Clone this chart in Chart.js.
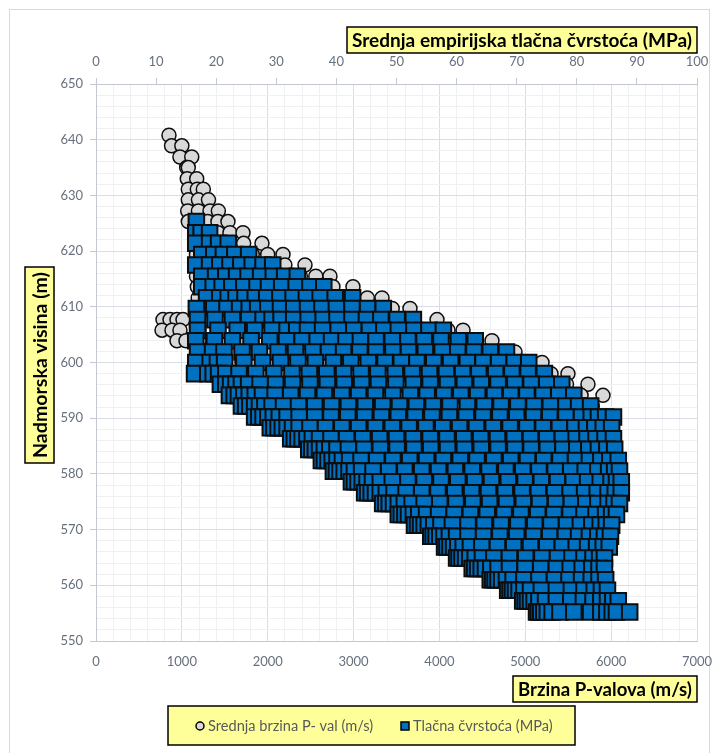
<!DOCTYPE html>
<html>
<head>
<meta charset="utf-8">
<script src="https://cdn.jsdelivr.net/npm/chart.js@4.4.1/dist/chart.umd.min.js"></script>
<style>
  html, body { margin: 0; padding: 0; background: #fff; }
  #wrap { width: 719px; height: 753px; }
</style>
</head>
<body>
<div id="wrap"><canvas id="profil"></canvas></div>
<script>
// nadmorske visine redova mjerenja (m)
const elevations = [640.8, 638.9, 636.9, 635.0, 633.0, 631.1, 629.2, 627.2,
    625.3, 623.3, 621.4, 619.4, 617.5, 615.5, 613.6, 611.6, 609.7, 607.7,
    605.8, 603.9, 601.9, 600.0, 598.0, 596.1, 594.1, 592.2, 590.2, 588.3,
    586.3, 584.4, 582.4, 580.5, 578.6, 576.6, 574.7, 572.7, 570.8, 568.8,
    566.9, 564.9, 563.0, 561.0, 559.1, 557.2, 555.2];

// Srednja brzina P-val (m/s), jedan niz po visini
const velRows = [
    [850],
    [880, 1000],
    [978, 1115],
    [1056, 1075],
    [1063, 1173],
    [1075, 1180, 1250],
    [1075, 1193, 1310],
    [1068, 1193, 1328, 1425],
    [1075, 1190, 1300, 1420, 1537],
    [1150, 1280, 1420, 1560, 1712],
    [1160, 1330, 1520, 1720, 1933],
    [1170, 1380, 1600, 1820, 2000, 2178],
    [1160, 1420, 1700, 1950, 2200, 2434],
    [1170, 1450, 1760, 2060, 2380, 2560, 2725],
    [1180, 1500, 1830, 2150, 2480, 2760, 2993],
    [1190, 1540, 1900, 2270, 2620, 2980, 3160, 3331],
    [1170, 1560, 1960, 2360, 2750, 3140, 3450, 3657],
    [780, 862, 943, 1013, 1250, 1660, 2090, 2510, 2930, 3350, 3700, 3972],
    [769, 885, 978, 1200, 1640, 2090, 2540, 2980, 3420, 3850, 4100, 4275],
    [943, 1048, 1200, 1680, 2170, 2650, 3130, 3600, 4060, 4400, 4612],
    [1200, 1700, 2200, 2700, 3200, 3700, 4180, 4600, 4880],
    [1176, 1700, 2230, 2760, 3290, 3810, 4320, 4800, 5050, 5195],
    [1165, 1720, 2280, 2840, 3400, 3950, 4490, 5000, 5300, 5497],
    [1468, 1990, 2520, 3050, 3580, 4100, 4620, 5100, 5480, 5730],
    [1572, 2100, 2640, 3180, 3720, 4250, 4770, 5250, 5650, 5905],
    [1712, 2230, 2760, 3290, 3810, 4330, 4840, 5330, 5780],
    [1863, 2380, 2900, 3420, 3940, 4450, 4960, 5480, 6000],
    [2050, 2550, 3050, 3560, 4060, 4560, 5060, 5540, 5980],
    [2283, 2760, 3240, 3720, 4200, 4680, 5150, 5600, 6000],
    [2492, 2950, 3410, 3870, 4330, 4790, 5240, 5650, 6020],
    [2644, 3090, 3540, 3990, 4440, 4890, 5330, 5720, 6050],
    [2784, 3220, 3660, 4100, 4540, 4980, 5400, 5780, 6060],
    [2993, 3420, 3850, 4280, 4710, 5130, 5530, 5850, 6080],
    [3145, 3560, 3980, 4400, 4820, 5230, 5610, 5900, 6080],
    [3354, 3760, 4170, 4580, 4990, 5380, 5720, 5950, 6060],
    [3541, 3940, 4340, 4740, 5140, 5510, 5800, 6020],
    [3727, 4110, 4500, 4890, 5280, 5620, 5850, 5970],
    [3913, 4290, 4670, 5050, 5420, 5720, 5950],
    [4076, 4440, 4800, 5160, 5510, 5780, 5950],
    [4216, 4560, 4910, 5260, 5600, 5880],
    [4402, 4740, 5080, 5420, 5700, 5880],
    [4612, 4930, 5250, 5560, 5780, 5900],
    [4810, 5110, 5410, 5690, 5920],
    [4985, 5270, 5550, 5810, 6050],
    [5148, 5420, 5690, 5950, 6180]
];

// Tlacna cvrstoca (MPa), isti redovi visina
const ucsRows = [
    [], [], [], [], [], [], [], [],
    [16.7],
    [16.6, 17.5, 18.9],
    [16.6, 18.9, 20.4, 22.0],
    [17.6, 19.6, 21.2, 23.1, 25.4],
    [16.6, 18.9, 20.6, 22.3, 24.1, 26.0, 27.8, 29.4],
    [17.6, 19.9, 21.6, 23.4, 25.3, 27.4, 29.5, 31.4, 33.5],
    [17.6, 19.5, 21.0, 22.6, 24.6, 26.8, 28.7, 30.9, 33.3, 35.6, 37.9],
    [18.4, 20.6, 22.0, 23.3, 24.8, 26.5, 28.4, 30.6, 32.8, 35.0, 37.3, 39.8, 42.7],
    [16.7, 19.6, 21.8, 23.9, 25.5, 26.9, 28.6, 30.7, 32.9, 35.2, 37.6, 40.0, 42.6, 45.2, 47.8],
    [16.9, 19.8, 22.7, 25.4, 27.8, 29.3, 30.8, 32.9, 35.3, 37.8, 40.1, 42.6, 45.0, 47.4, 50.1, 52.8],
    [16.9, 20.3, 23.5, 26.4, 29.3, 31.8, 33.4, 35.2, 37.7, 40.3, 42.9, 45.5, 47.9, 50.3, 52.9, 55.4, 57.8],
    [16.6, 19.7, 22.7, 25.8, 28.9, 31.7, 34.3, 36.8, 39.2, 41.6, 44.0, 46.6, 49.3, 51.9, 54.6, 57.4, 60.3, 63.1],
    [16.9, 19.4, 21.3, 24.3, 27.2, 30.3, 33.2, 36.1, 38.7, 41.2, 43.9, 46.6, 49.4, 52.0, 54.8, 57.6, 60.2, 62.9, 65.6, 68.3],
    [16.6, 19.0, 20.2, 21.4, 24.6, 27.7, 30.7, 33.6, 36.5, 39.5, 42.4, 45.3, 48.1, 50.8, 53.4, 56.2, 59.0, 61.8, 64.4, 67.0, 69.6, 72.0],
    [16.4, 18.6, 19.5, 20.4, 21.6, 23.8, 26.6, 29.6, 32.6, 35.5, 38.4, 41.2, 44.1, 46.9, 49.8, 52.6, 55.5, 58.3, 61.0, 63.7, 66.5, 69.2, 71.9, 74.6],
    [20.7, 21.6, 22.4, 23.3, 24.2, 25.4, 27.3, 29.9, 32.7, 35.6, 38.5, 41.3, 44.2, 47.0, 49.9, 52.8, 55.6, 58.5, 61.3, 64.1, 66.9, 69.7, 72.4, 75.0, 77.5],
    [22.2, 23.0, 23.7, 24.6, 25.5, 26.5, 27.7, 29.8, 32.4, 35.2, 38.0, 40.9, 43.7, 46.5, 49.4, 52.3, 55.1, 57.9, 60.7, 63.5, 66.3, 69.0, 71.7, 74.4, 77.0, 79.5],
    [24.2, 24.9, 25.6, 26.4, 27.2, 28.1, 29.3, 31.2, 33.7, 36.4, 39.2, 42.0, 44.8, 47.7, 50.5, 53.3, 56.1, 58.9, 61.8, 64.6, 67.4, 70.2, 72.9, 75.6, 78.2, 80.3, 82.3],
    [26.4, 27.1, 27.8, 28.6, 29.5, 30.5, 31.8, 33.8, 36.4, 39.1, 41.9, 44.7, 47.5, 50.3, 53.1, 55.9, 58.8, 61.6, 64.4, 67.2, 70.0, 72.8, 75.5, 78.2, 80.8, 82.4, 83.6, 84.8, 86.1],
    [29.0, 29.6, 30.3, 31.0, 31.8, 32.7, 33.8, 35.6, 38.2, 40.9, 43.7, 46.5, 49.3, 52.1, 54.9, 57.7, 60.5, 63.3, 66.1, 68.9, 71.7, 74.4, 77.1, 79.7, 81.6, 83.0, 84.4, 85.8],
    [32.4, 33.0, 33.6, 34.3, 35.1, 36.0, 37.2, 39.1, 41.7, 44.4, 47.2, 50.0, 52.8, 55.6, 58.4, 61.2, 64.0, 66.8, 69.6, 72.3, 75.0, 77.6, 79.9, 81.7, 83.2, 84.7, 86.1],
    [35.4, 35.9, 36.5, 37.2, 38.0, 38.9, 40.1, 42.0, 44.6, 47.3, 50.1, 52.9, 55.7, 58.5, 61.3, 64.1, 66.9, 69.7, 72.4, 75.1, 77.7, 80.0, 82.0, 83.6, 85.0, 86.3],
    [37.5, 38.0, 38.6, 39.3, 40.1, 41.0, 42.2, 44.1, 46.7, 49.4, 52.2, 55.0, 57.8, 60.6, 63.4, 66.2, 69.0, 71.8, 74.5, 77.2, 79.8, 82.1, 84.0, 85.5, 86.9],
    [39.5, 40.0, 40.6, 41.3, 42.1, 43.0, 44.2, 46.1, 48.7, 51.4, 54.2, 57.0, 59.8, 62.6, 65.4, 68.2, 71.0, 73.7, 76.4, 79.0, 81.4, 83.5, 85.3, 86.3, 87.1],
    [42.5, 43.0, 43.6, 44.3, 45.1, 46.0, 47.3, 49.3, 51.9, 54.6, 57.4, 60.2, 63.0, 65.8, 68.6, 71.4, 74.1, 76.8, 79.4, 81.8, 83.9, 85.7, 86.6, 87.4],
    [44.7, 45.2, 45.8, 46.5, 47.3, 48.3, 49.6, 51.6, 54.2, 56.9, 59.7, 62.5, 65.3, 68.1, 70.9, 73.6, 76.3, 78.9, 81.3, 83.4, 85.2, 86.4, 87.4],
    [47.7, 48.2, 48.8, 49.5, 50.3, 51.3, 52.6, 54.6, 57.2, 59.9, 62.7, 65.5, 68.3, 71.1, 73.8, 76.5, 79.1, 81.5, 83.5, 85.2, 86.2, 87.1],
    [50.3, 50.8, 51.4, 52.0, 52.8, 53.7, 55.0, 57.0, 59.6, 62.3, 65.1, 67.9, 70.7, 73.5, 76.2, 78.9, 81.2, 83.2, 84.8, 85.8, 86.6],
    [53.0, 53.5, 54.0, 54.6, 55.3, 56.2, 57.4, 59.3, 61.9, 64.6, 67.4, 70.2, 73.0, 75.7, 78.3, 80.6, 82.5, 83.9, 84.9, 85.8],
    [55.7, 56.1, 56.6, 57.2, 57.9, 58.8, 60.0, 61.9, 64.5, 67.2, 70.0, 72.8, 75.5, 78.1, 80.3, 82.1, 83.5, 84.6, 85.6],
    [58.0, 58.4, 58.9, 59.5, 60.2, 61.1, 62.3, 64.2, 66.8, 69.5, 72.3, 75.0, 77.6, 79.9, 81.8, 83.3, 84.4, 85.4],
    [60.0, 60.4, 60.9, 61.5, 62.2, 63.1, 64.3, 66.2, 68.8, 71.5, 74.2, 76.8, 79.2, 81.2, 82.7, 83.8, 84.6],
    [62.6, 63.0, 63.5, 64.1, 64.8, 65.7, 66.9, 68.8, 71.4, 74.0, 76.6, 78.9, 80.9, 82.5, 83.7, 84.6],
    [65.6, 66.0, 66.4, 66.9, 67.5, 68.3, 69.4, 71.2, 73.7, 76.3, 78.7, 80.8, 82.4, 83.7, 84.8],
    [68.5, 68.9, 69.3, 69.8, 70.4, 71.2, 72.3, 74.1, 76.6, 79.1, 81.2, 82.9, 84.1, 85.1],
    [71.0, 71.4, 71.8, 72.3, 72.9, 73.7, 74.8, 76.6, 79.0, 81.1, 82.7, 84.0, 85.1, 86.0, 86.9],
    [73.3, 73.6, 74.0, 74.5, 75.1, 75.9, 77.2, 79.5, 82.3, 84.0, 85.0, 85.9, 86.6, 88.8]
];

const seriesNames = ['Srednja brzina P- val (m/s)', 'Tlačna čvrstoća (MPa)'];
const axisTitles = {
    top: 'Srednja empirijska tlačna čvrstoća (MPa)',
    bottom: 'Brzina P-valova (m/s)',
    left: 'Nadmorska visina (m)'
};

function toPoints(rows) {
    const pts = [];
    rows.forEach(function (xs, i) {
        xs.forEach(function (v) { pts.push({ x: v, y: elevations[i] }); });
    });
    return pts;
}

const tickGray = '#66707e';
const axisGray = '#c3c8d2';
const gridMajor = '#d9dde5';
const gridMinor = '#eef0f4';
const boxYellow = '#ffff99';
const fontFam = 'Lato, "Noto Sans", sans-serif';

// zuti okviri s naslovima osi + legenda
function yellowTag(ctx, text, cx, cy, w, h, rotate) {
    ctx.save();
    ctx.translate(cx, cy);
    if (rotate) ctx.rotate(-Math.PI / 2);
    ctx.fillStyle = boxYellow;
    ctx.fillRect(-w / 2, -h / 2, w, h);
    ctx.strokeStyle = '#000';
    ctx.lineWidth = 1.5;
    ctx.strokeRect(-w / 2, -h / 2, w, h);
    let size = 16;
    ctx.font = 'bold ' + size + 'px ' + fontFam;
    const tw = ctx.measureText(text).width;
    size = size * (w - 10) / tw;
    ctx.font = 'bold ' + size.toFixed(2) + 'px ' + fontFam;
    ctx.fillStyle = '#000';
    ctx.textAlign = 'center';
    ctx.textBaseline = 'middle';
    ctx.fillText(text, 0, 1);
    ctx.restore();
}

const decorPlugin = {
    id: 'decor',
    beforeDraw(chart) {
        const c = chart.ctx;
        c.save();
        c.fillStyle = '#fff';
        c.fillRect(0, 0, chart.width, chart.height);
        c.strokeStyle = '#d9d9d9';
        c.lineWidth = 1;
        c.strokeRect(9.5, 9.5, chart.width - 19, chart.height + 20);
        c.restore();
    },
    afterDraw(chart) {
        const c = chart.ctx;
        const a = chart.chartArea;
        yellowTag(c, axisTitles.top, a.right - 175, 40, 350, 26, false);
        yellowTag(c, axisTitles.bottom, a.right - 92, 689, 184, 26, false);
        yellowTag(c, axisTitles.left, 39.5, 365, 196, 29, true);

        // legenda
        c.save();
        c.fillStyle = boxYellow;
        c.fillRect(168, 706, 407, 39);
        c.strokeStyle = '#000';
        c.lineWidth = 1.5;
        c.strokeRect(168, 706, 407, 39);
        const ly = 726;
        const ds = chart.data.datasets;
        c.beginPath();
        c.arc(200, ly, 4, 0, Math.PI * 2);
        c.fillStyle = ds[1].backgroundColor;
        c.fill();
        c.lineWidth = 1.5;
        c.strokeStyle = '#000';
        c.stroke();
        c.fillStyle = ds[0].backgroundColor;
        c.fillRect(401, ly - 4, 8, 8);
        c.strokeRect(401, ly - 4, 8, 8);
        c.font = '14.6px ' + fontFam;
        c.fillStyle = '#595959';
        c.textAlign = 'left';
        c.textBaseline = 'middle';
        c.fillText(seriesNames[0], 208, ly);
        c.fillText(seriesNames[1], 413, ly);
        c.restore();
    }
};

const ctx = document.getElementById('profil').getContext('2d');
Chart.defaults.font.family = fontFam;

new Chart(ctx, {
    type: 'scatter',
    data: {
        datasets: [{
            label: seriesNames[1],
            data: toPoints(ucsRows),
            xAxisID: 'x2',
            yAxisID: 'y',
            pointStyle: 'rect',
            pointRadius: 11,
            pointHoverRadius: 11,
            backgroundColor: '#0070c0',
            borderColor: '#0d0d0d',
            borderWidth: 2
        }, {
            label: seriesNames[0],
            data: toPoints(velRows),
            xAxisID: 'x',
            yAxisID: 'y',
            pointStyle: 'circle',
            pointRadius: 7,
            pointHoverRadius: 7,
            backgroundColor: '#d9d9d9',
            borderColor: '#0d0d0d',
            borderWidth: 1.5
        }]
    },
    options: {
        responsive: true,
        maintainAspectRatio: false,
        animation: false,
        layout: { padding: { left: 0, right: 0, top: 0, bottom: 52 } },
        scales: {
            x: {
                type: 'linear',
                position: 'bottom',
                min: 0,
                max: 7000,
                ticks: {
                    stepSize: 200,
                    autoSkip: false,
                    maxRotation: 0,
                    color: tickGray,
                    font: { size: 13 },
                    padding: 13,
                    callback: v => (v % 1000 === 0 ? v : '')
                },
                grid: {
                    color: c => (c.tick && c.tick.value % 1000 === 0 ? gridMajor : gridMinor),
                    drawTicks: false
                },
                border: { color: axisGray },
                afterFit: s => { s.height = 60; s.paddingLeft = 0; s.paddingRight = 22; }
            },
            x2: {
                type: 'linear',
                position: 'top',
                min: 0,
                max: 100,
                ticks: {
                    stepSize: 10,
                    autoSkip: false,
                    maxRotation: 0,
                    color: tickGray,
                    font: { size: 13 },
                    padding: 8
                },
                grid: { drawOnChartArea: false, tickLength: 6, tickColor: axisGray },
                border: { color: axisGray },
                afterFit: s => { s.height = 84; s.paddingLeft = 0; s.paddingRight = 22; }
            },
            y: {
                type: 'linear',
                min: 550,
                max: 650,
                ticks: {
                    stepSize: 2,
                    autoSkip: false,
                    color: tickGray,
                    font: { size: 13 },
                    padding: 7,
                    callback: v => (v % 10 === 0 ? v : '')
                },
                grid: {
                    color: c => (c.tick && c.tick.value % 10 === 0 ? gridMajor : gridMinor),
                    tickLength: 6,
                    tickColor: c => (c.tick && c.tick.value % 10 === 0 ? axisGray : 'rgba(0,0,0,0)')
                },
                border: { color: axisGray },
                afterFit: s => { s.width = 96; }
            }
        },
        plugins: {
            legend: { display: false },
            tooltip: { enabled: false }
        }
    },
    plugins: [decorPlugin]
});
</script>
</body>
</html>
